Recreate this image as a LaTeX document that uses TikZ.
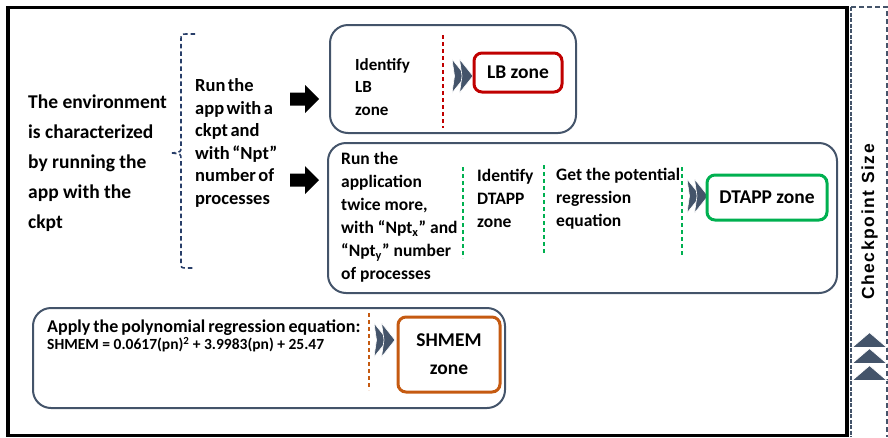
\documentclass[tikz,border=0pt]{standalone}
\usepackage{fontspec}
\setmainfont{Carlito}
\newfontfamily\arialfont{Liberation Sans}
\newcommand\tightsp{\spaceskip=2.5pt plus 1pt\relax}
\newcommand\medsp{\spaceskip=3pt plus 1pt\relax}
\definecolor{boxc}{RGB}{68,84,106}
\definecolor{brc}{RGB}{40,62,105}
\definecolor{redc}{RGB}{192,0,0}
\definecolor{greenc}{RGB}{0,176,80}
\definecolor{orangec}{RGB}{197,90,17}
\tikzset{
  panel/.style={draw=boxc, line width=2pt, rounded corners=18pt, inner sep=0pt},
  zonebox/.style={line width=3pt, rounded corners=8pt, fill=white, align=center, inner sep=0pt,
     font=\bfseries\fontsize{19.5}{28}\selectfont},
  txt/.style={inner sep=0pt, align=left, anchor=west, font=\bfseries\fontsize{17.5}{23}\selectfont},
  divider/.style={dash pattern=on 4pt off 3pt, line width=1.5pt},
  chev/.pic={
    \foreach \o in {0,7.5}{
      \filldraw[fill=boxc, draw=white, line width=0.6pt]
        (\o,-17) -- (\o+13.5,0) -- (\o,17) -- (\o+2.5,0) -- cycle;
    }
  },
  blockarrow/.pic={
    \fill[black] (0,-6.5) -- (15,-6.5) -- (15,-14) -- (29,0) -- (15,14) -- (15,6.5) -- (0,6.5) -- cycle;
  },
  uptri/.pic={
    \filldraw[fill=boxc, draw=white, line width=0.8pt] (-17.5,7.5) -- (0,-7.5) -- (17.5,7.5) -- cycle;
  }
}
\begin{document}
\begin{tikzpicture}[x=1pt,y=-1pt]
\useasboundingbox (0,0) rectangle (888,437);

% outer frame
\draw[black, line width=3.5pt] (8,7.5) rectangle (847,435.5);

% right strip
\draw[boxc, line width=1.2pt, dash pattern=on 5pt off 3pt] (851,7) -- (887,7) -- (887,437);
\draw[boxc, line width=2.5pt, dash pattern=on 4pt off 1.5pt] (851,7) -- (851,437);
\node[rotate=90, inner sep=0pt, font=\arialfont\bfseries\fontsize{17.5}{20}\selectfont] (ckpt) at (869.5,222)
  {\addfontfeature{LetterSpace=9}Checkpoint Size};
\pic at (869.5,340) {uptri};
\pic at (869.5,356) {uptri};
\pic at (869.5,373) {uptri};

% left text
\node[txt, font=\bfseries\fontsize{19.5}{30}\selectfont] (env) at (28,163)
  {The environment\\is characterized\\by running the\\app with the\\ckpt};

% bracket
\draw[brc, line width=1.6pt, dash pattern=on 4.5pt off 3pt]
  (195,34) -- (187,34) .. controls (181,34) .. (181,40) -- (181,147) .. controls (181,152) .. (172,153);
\draw[brc, line width=1.6pt, dash pattern=on 4.5pt off 3pt]
  (172,153) .. controls (181,154) .. (181,159) -- (181,262) .. controls (181,268) .. (187,268) -- (195,268);

\node[txt, font=\bfseries\fontsize{18.5}{22.5}\selectfont\tightsp] (run) at (195,143)
  {Run the\\app with a\\ckpt and\\with \textquotedblleft Npt"\\number of\\processes};

% block arrows
\pic at (290,99) {blockarrow};
\pic at (290,180) {blockarrow};

% panel 1
\node[panel, minimum width=246pt, minimum height=108pt] (p1) at (453,79) {};
\node[txt, font=\bfseries\fontsize{17}{22.5}\selectfont] (idlb) at (355,87) {Identify\\LB\\zone};
\draw[redc, divider] (443,35) -- (443,128);
\pic at (452,76) {chev};
\node[zonebox, draw=redc, minimum width=88pt, minimum height=39pt] (lbz) at (518,72.5) {LB zone};

% panel 2
\node[panel, minimum width=509pt, minimum height=150pt] (p2) at (582.5,218) {};
\node[txt] (runapp) at (341,217.5)
  {Run the\\application\\twice more,\\with \textquotedblleft Npt\textsubscript{x}\textquotedblright{} and\\\textquotedblleft Npt\textsubscript{y}\textquotedblright{} number\\of processes};
\draw[greenc, divider] (463,167) -- (463,258);
\node[txt] (iddt) at (477,198) {Identify\\DTAPP\\zone};
\draw[greenc, divider] (544,165) -- (544,255);
\node[txt] (getreg) at (556,199) {Get the potential\\regression\\equation};
\draw[greenc, divider] (682,167) -- (682,257);
\pic at (687,196) {chev};
\node[zonebox, draw=greenc, minimum width=120pt, minimum height=45pt] (dtz) at (767,197.5) {DTAPP zone};

% panel 3
\node[panel, minimum width=472pt, minimum height=100pt] (p3) at (269,358) {};
\node[inner sep=0pt, anchor=west, font=\bfseries\fontsize{18}{22}\selectfont\medsp] (apply) at (47,328)
  {Apply the polynomial regression equation:};
\node[inner sep=0pt, anchor=west, font=\bfseries\fontsize{15.5}{18}\selectfont] (eq) at (47,345)
  {SHMEM = 0.0617(pn)\textsuperscript{2} + 3.9983(pn) + 25.47};
\draw[orangec, divider] (369,313) -- (369,390);
\pic at (374,340) {chev};
\node[zonebox, draw=orangec, minimum width=102pt, minimum height=75pt] (shz) at (449,354.5) {SHMEM\\zone};
\end{tikzpicture}
\end{document}
